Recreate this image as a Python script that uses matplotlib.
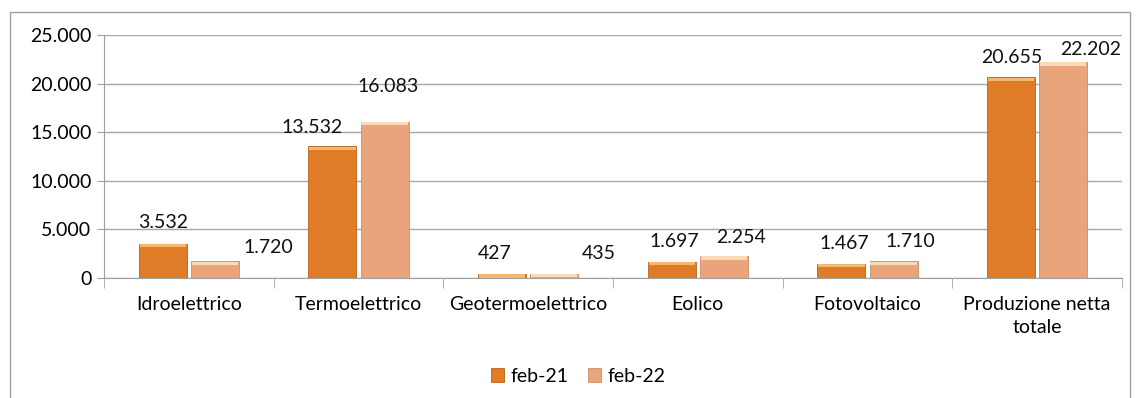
import matplotlib.pyplot as plt
import numpy as np
from matplotlib.patches import Rectangle
from matplotlib.ticker import FuncFormatter

categories = ['Idroelettrico', 'Termoelettrico', 'Geotermoelettrico', 'Eolico',
              'Fotovoltaico', 'Produzione netta\ntotale']
feb21 = [3532, 13532, 427, 1697, 1467, 20655]
feb22 = [1720, 16083, 435, 2254, 1710, 22202]
series_names = ['feb-21', 'feb-22']

# label offsets in pixels (dx, dy) from the bar top, like the excel placement
off21 = [(0, 21), (-20, 19), (-7, 20), (3, 20), (3, 20), (1, 20)]
off22 = [(53, 14), (3, 35), (44, 20), (17, 19), (17, 20), (27, 13)]

plt.rcParams['font.family'] = ['Lato', 'DejaVu Sans']
fs = 14

fig = plt.figure(figsize=(11.38, 3.98), dpi=100)
fig.patches.append(Rectangle((10/1138, -0.05), 1120/1138, 1.05 - 12/398, transform=fig.transFigure,
                             fill=False, edgecolor='#a0a0a0', linewidth=1))
ax = fig.add_axes([104/1138, 1-278/398, 1018/1138, 243/398])

x = np.arange(len(categories))
w = 0.284
g = 0.012
c1 = '#e07b28'
c2 = '#e9a47c'
b1 = ax.bar(x - w/2 - g, feb21, w, color=c1, edgecolor='#b8621c', linewidth=0.6,
            label=series_names[0], zorder=3)
b2 = ax.bar(x + w/2 + g, feb22, w, color=c2, edgecolor='#cf8c66', linewidth=0.6,
            label=series_names[1], zorder=3)
# light top bevel
ax.bar(x - w/2 - g, [350]*len(x), w*0.96, bottom=np.array(feb21)-380, color='#f4b86e',
       linewidth=0, zorder=4)
ax.bar(x + w/2 + g, [350]*len(x), w*0.96, bottom=np.array(feb22)-380, color='#f8dcb5',
       linewidth=0, zorder=4)

fmt = lambda v: '{:,}'.format(int(v)).replace(',', '.')
for i in range(len(x)):
    ax.annotate(fmt(feb21[i]), (x[i] - w/2 - g, feb21[i]), xytext=off21[i], textcoords='offset pixels',
                ha='center', va='center', fontsize=fs, color='#111111', zorder=5)
    ax.annotate(fmt(feb22[i]), (x[i] + w/2 + g, feb22[i]), xytext=off22[i], textcoords='offset pixels',
                ha='center', va='center', fontsize=fs, color='#111111', zorder=5)

ax.set_xlim(-0.5, len(categories) - 0.5)
ax.set_ylim(0, 25000)
ax.set_yticks(np.arange(0, 25001, 5000))
ax.yaxis.set_major_formatter(FuncFormatter(lambda v, p: fmt(v)))
ax.set_xticks(x)
ax.set_xticklabels(categories, fontsize=fs, linespacing=1.4)
ax.set_xticks(np.arange(-0.5, len(categories), 1), minor=True)
ax.tick_params(axis='x', which='major', length=0, pad=13)
ax.tick_params(axis='x', which='minor', length=7, color='#a0a0a0')
ax.tick_params(axis='y', length=5, color='#a0a0a0', labelsize=fs, pad=4)
ax.grid(axis='y', color='#a8a8a8', linewidth=1, zorder=0)
for s in ['top', 'right']:
    ax.spines[s].set_visible(False)
ax.spines['left'].set_color('#a0a0a0')
ax.spines['bottom'].set_color('#a0a0a0')

fig.legend(handles=[b1, b2], loc='center', bbox_to_anchor=(578/1138, 1-376/398), ncol=2,
           frameon=False, fontsize=fs, handlelength=0.7, handleheight=0.7,
           handletextpad=0.3, columnspacing=1.0)

plt.savefig('out.png', dpi=100)
